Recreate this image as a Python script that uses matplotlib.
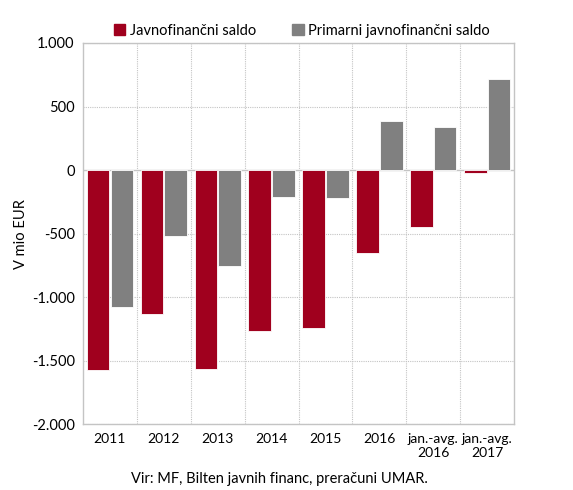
import numpy as np
import matplotlib
matplotlib.use("Agg")
import matplotlib.pyplot as plt
from matplotlib.patches import Patch

plt.rcParams["font.family"] = ["Lato", "DejaVu Sans"]

# data (mio EUR)
categories = ["2011", "2012", "2013", "2014", "2015", "2016",
              "jan.-avg.\n2016", "jan.-avg.\n2017"]
saldo = [-1570, -1130, -1560, -1262, -1245, -655, -445, -25]
primarni = [-1080, -515, -755, -210, -220, 385, 340, 720]

yticks = [1000, 500, 0, -500, -1000, -1500, -2000]
ytick_labels = ["1.000", "500", "0", "-500", "-1.000", "-1.500", "-2.000"]

RED = "#A0001E"
GREY = "#808080"
FRAME = "#c4c4c4"

fig = plt.figure(figsize=(5.73, 4.9), dpi=100)
ax = fig.add_axes([0.1449, 0.1337, 0.7522, 0.7786])

x = np.arange(len(categories))
w = 0.42
ax.bar(x - w / 2 - 0.01, saldo, w, color=RED, edgecolor="white", linewidth=0.6, zorder=3)
ax.bar(x + w / 2 + 0.01, primarni, w, color=GREY, edgecolor="white", linewidth=0.6, zorder=3)

ax.set_xlim(-0.5, len(categories) - 0.5)
ax.set_ylim(-2000, 1000)
ax.set_yticks(yticks)
ax.set_yticklabels(ytick_labels, fontsize=10.5)
ax.set_xticks(x)
ax.set_xticklabels(categories, fontsize=10, linespacing=1.25)
ax.tick_params(length=0, pad=6)

# dotted grid: horizontal at ticks, vertical at category boundaries
for yv in yticks:
    if yv != 0:
        ax.axhline(yv, color=FRAME, lw=0.8, ls=(0, (1, 1)), zorder=1)
for xv in np.arange(0.5, len(categories) - 0.5):
    ax.axvline(xv, color=FRAME, lw=0.8, ls=(0, (1, 1)), zorder=1)
ax.axhline(0, color=FRAME, lw=1.0, zorder=2)

for s in ax.spines.values():
    s.set_color(FRAME)
    s.set_linewidth(1.0)

ax.set_ylabel("V mio EUR", fontsize=10.5, labelpad=3)

handles = [Patch(color=RED), Patch(color=GREY)]
fig.legend(handles, ["Javnofinančni saldo", "Primarni javnofinančni saldo"],
           loc="center", bbox_to_anchor=(0.527, 0.937), ncol=2, frameon=False,
           fontsize=10.5, handlelength=0.8, handleheight=0.8, handletextpad=0.3,
           columnspacing=2.5)

fig.text(0.487, 0.022, "Vir: MF, Bilten javnih financ, preračuni UMAR.",
         ha="center", va="center", fontsize=10.5)

fig.savefig("out.png", dpi=100)
